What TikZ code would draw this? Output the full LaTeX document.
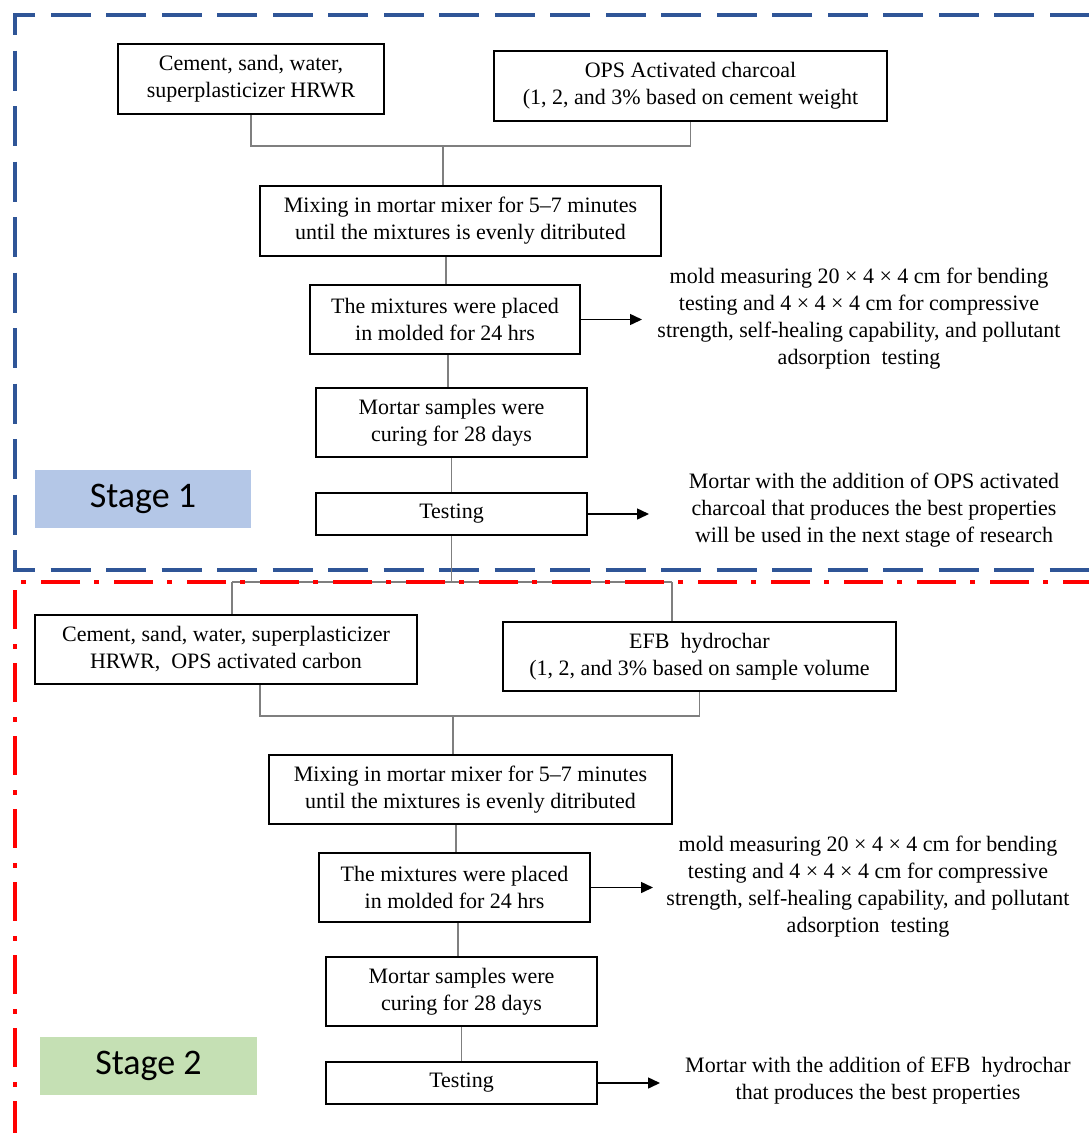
\documentclass[tikz,border=0pt]{standalone}
\usepackage{fontspec}
\setmainfont{Liberation Serif}
\newfontfamily\stagefont{Carlito}
\usetikzlibrary{arrows.meta}
\definecolor{frameblue}{HTML}{2F5597}
\definecolor{framered}{HTML}{FF0000}
\definecolor{stageblue}{HTML}{B4C7E7}
\definecolor{stagegreen}{HTML}{C5E0B4}
\definecolor{conngray}{HTML}{7F7F7F}
\begin{document}
\begin{tikzpicture}[x=1pt,y=-1pt,
 box/.style={draw=black, line width=2pt, align=center, inner sep=0pt, font=\fontsize{22}{27}\selectfont},
 note/.style={align=center, inner sep=0pt, font=\fontsize{22}{27}\selectfont},
 stagebox/.style={inner sep=0pt, font=\stagefont\fontsize{36}{40}\selectfont},
 conn/.style={draw=conngray, line width=1.3pt},
 arr/.style={draw=black, line width=1.5pt, -{Triangle[length=12pt,width=11pt]}},
 blueframe/.style={draw=frameblue, line width=4.5pt, dash pattern=on 40pt off 15.5pt, dash phase=50pt},
 redframe/.style={draw=framered, line width=4.3pt, dash pattern=on 39pt off 15pt on 5pt off 14pt, dash phase=7pt},
]
\useasboundingbox (0,0) rectangle (1089,1133);
\clip (0,0) rectangle (1089,1133);

% Stage 1 frame
\draw[blueframe] (1095,15) -- (15,15) -- (15,570) -- (1095,570);

% Stage 1 nodes
\node[box, minimum width=266pt, minimum height=70pt] (A) at (251,79) {Cement, sand, water,\\superplasticizer HRWR};
\node[box, minimum width=393pt, minimum height=70pt] (B) at (690.5,86) {OPS Activated charcoal\\(1, 2, and 3\% based on cement weight};
\node[box, minimum width=401pt, minimum height=70pt] (C) at (460.5,221) {Mixing in mortar mixer for 5–7 minutes\\until the mixtures is evenly ditributed};
\node[box, minimum width=270pt, minimum height=69pt] (D) at (445,319.5) {The mixtures were placed\\in molded for 24 hrs};
\node[box, minimum width=271pt, minimum height=69pt] (E) at (451.5,422.5) {Mortar samples were\\curing for 28 days};
\node[box, minimum width=271pt, minimum height=42pt] (F) at (451.5,514) {Testing};
\node[note] (M1) at (859,319) {mold measuring 20 × 4 × 4 cm for bending\\testing and 4 × 4 × 4 cm for compressive\\strength, self-healing capability, and pollutant\\adsorption \ testing};
\node[note] (R1) at (874,510) {Mortar with the addition of OPS activated\\charcoal that produces the best properties\\will be used in the next stage of research};
\node[stagebox, fill=stageblue, minimum width=216pt, minimum height=58pt] (S1) at (143,499) {Stage 1};

% Stage 1 connectors
\coordinate (j1) at (443,146);
\draw[conn] (A.south) |- (j1) -| (B.south);
\draw[conn] (j1) -- (j1 |- C.north);
\coordinate (c2) at (446,0);
\draw[conn] (c2 |- C.south) -- (c2 |- D.north);
\coordinate (c3) at (448,0);
\draw[conn] (c3 |- D.south) -- (c3 |- E.north);
\draw[conn] (E.south) -- (F.north);
\coordinate (a1) at (642,319.5);
\coordinate (a2) at (649,514);
\draw[arr] (D.east) -- (a1);
\draw[arr] (F.east) -- (a2);

% link between stages
\coordinate (j2) at (451.5,582);
\coordinate (gL) at (232,582);
\coordinate (gR) at (672,582);
\draw[conn] (F.south) -- (j2);

% Stage 2 nodes
\node[box, minimum width=382pt, minimum height=69pt] (G) at (226,649.5) {Cement, sand, water, superplasticizer\\HRWR, \ OPS activated carbon};
\node[box, minimum width=393pt, minimum height=69pt] (H) at (699.5,656.5) {EFB \ hydrochar\\(1, 2, and 3\% based on sample volume};
\node[box, minimum width=403pt, minimum height=69pt] (I) at (470.5,789.5) {Mixing in mortar mixer for 5–7 minutes\\until the mixtures is evenly ditributed};
\node[box, minimum width=271pt, minimum height=69pt] (J) at (454.5,887.5) {The mixtures were placed\\in molded for 24 hrs};
\node[box, minimum width=271pt, minimum height=69pt] (K) at (461.5,991.5) {Mortar samples were\\curing for 28 days};
\node[box, minimum width=271pt, minimum height=42pt] (L) at (461.5,1083) {Testing};
\node[note] (M2) at (868,887) {mold measuring 20 × 4 × 4 cm for bending\\testing and 4 × 4 × 4 cm for compressive\\strength, self-healing capability, and pollutant\\adsorption \ testing};
\node[note] (R2) at (878,1080.5) {Mortar with the addition of EFB \ hydrochar\\that produces the best properties};
\node[stagebox, fill=stagegreen, minimum width=217pt, minimum height=58pt] (S2) at (148.5,1066) {Stage 2};

% Stage 2 connectors
\draw[conn] (gL) -- (gR);
\draw[conn] (gL) -- (gL |- G.north);
\draw[conn] (gR) -- (gR |- H.north);
\coordinate (gb) at (260,0);
\coordinate (j3) at (453,716);
\draw[conn] (gb |- G.south) |- (j3) -| (H.south);
\draw[conn] (j3) -- (j3 |- I.north);
\coordinate (c5) at (456,0);
\draw[conn] (c5 |- I.south) -- (c5 |- J.north);
\coordinate (c6) at (458,0);
\draw[conn] (c6 |- J.south) -- (c6 |- K.north);
\draw[conn] (K.south) -- (L.north);
\coordinate (a3) at (653,887.5);
\coordinate (a4) at (660,1083);
\draw[arr] (J.east) -- (a3);
\draw[arr] (L.east) -- (a4);

% Stage 2 frame
\draw[redframe] (1095,582) -- (15,582) -- (15,1140);
\end{tikzpicture}
\end{document}
